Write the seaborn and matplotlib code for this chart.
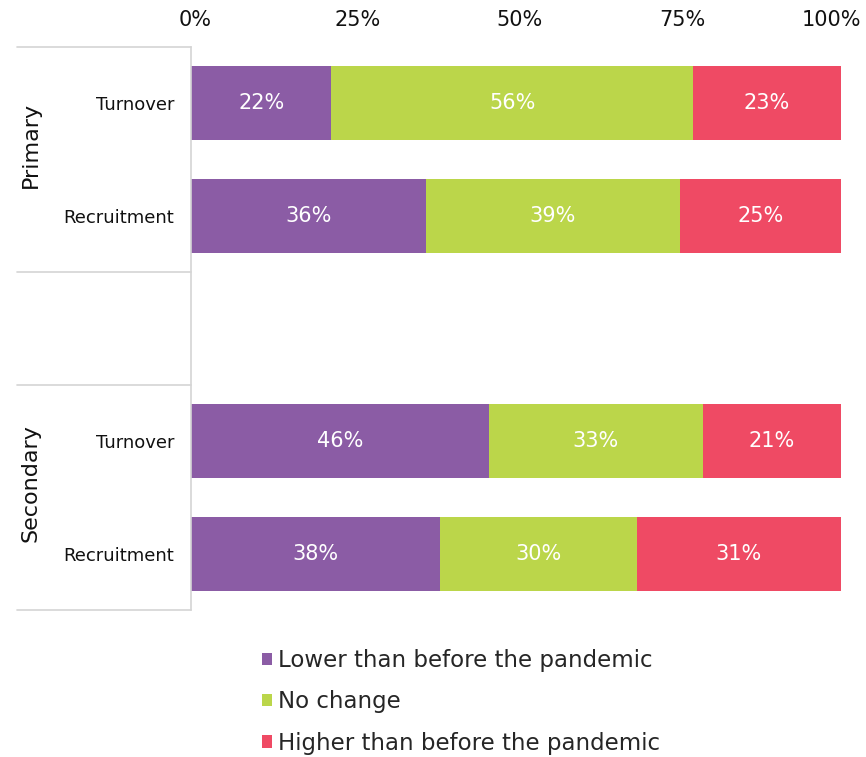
import pandas as pd
import seaborn as sns
import matplotlib.pyplot as plt
import matplotlib.transforms as mtransforms
from matplotlib.patches import Patch

# chart data
groups = ["Primary", "Secondary"]
measures = ["Turnover", "Recruitment", "Turnover", "Recruitment"]
positions = [0, 1, 3, 4]
lower = [21.6, 36.2, 45.8, 38.3]
no_change = [55.6, 39.0, 33.0, 30.3]
higher = [22.8, 24.8, 21.2, 31.4]
series_names = ["Lower than before the pandemic", "No change",
                "Higher than before the pandemic"]
ticks = [0, 25, 50, 75, 100]

colors = ["#8B5CA5", "#BBD64A", "#EF4A64"]

sns.set_theme(style="white")
plt.rcParams['font.family'] = ['DejaVu Sans']

df = pd.DataFrame({"pos": positions, "lower": lower,
                   "no_change": no_change, "higher": higher})
df["c1"] = df["lower"]
df["c2"] = df["c1"] + df["no_change"]
df["c3"] = df["c2"] + df["higher"]

fig = plt.figure(figsize=(8.66, 7.57), dpi=100)
ax = fig.add_axes([191 / 866, 1 - 610 / 757, 650 / 866, 563 / 757])

# stacked bars: draw the longest (cumulative) first
for col, color in [("c3", colors[2]), ("c2", colors[1]), ("c1", colors[0])]:
    sns.barplot(data=df, x=col, y="pos", orient="h", native_scale=True,
                color=color, width=0.655, linewidth=0, saturation=1, ax=ax)

# segment labels
for _, row in df.iterrows():
    starts = [0, row["c1"], row["c2"]]
    for s, v in zip(starts, [row["lower"], row["no_change"], row["higher"]]):
        ax.text(s + v / 2, row["pos"], f"{round(v)}%", ha="center",
                va="center", color="white", fontsize=15)

ax.set_xlim(0, 100)
ax.set_ylim(4.5, -0.5)
ax.xaxis.tick_top()
ax.set_xticks(ticks)
ax.set_xticklabels([f"{t}%" for t in ticks], fontsize=15, color="#111111")
ax.set_yticks(positions)
ax.set_yticklabels(measures, fontsize=13, color="#111111")
ax.tick_params(axis="x", length=0, pad=12)
ax.tick_params(axis="y", length=0, pad=12)
ax.set_xlabel("")
ax.set_ylabel("")
ax.grid(False)

# nudge tick labels a little, and pull "100%" inside the figure
xlabels = ax.get_xticklabels()
for i, lab in enumerate(xlabels):
    dx = -10 if i == len(xlabels) - 1 else 4
    lab.set_transform(lab.get_transform() +
                      mtransforms.ScaledTranslation(dx / 100, 0, fig.dpi_scale_trans))

for side in ["top", "right", "bottom"]:
    ax.spines[side].set_visible(False)
ax.spines["left"].set_color("#d4d4d4")
ax.spines["left"].set_linewidth(1.2)

# group separators and labels on the left
trans = mtransforms.blended_transform_factory(fig.transFigure, ax.transData)
for y in [-0.5, 1.5, 2.5, 4.5]:
    ax.plot([17 / 866, 191 / 866], [y, y], transform=trans, color="#d4d4d4",
            lw=1.2, clip_on=False)
for g, yc in zip(groups, [0.5, 3.5]):
    ax.text(31 / 866, yc - 0.13, g, transform=trans, rotation=90,
            ha="center", va="center", fontsize=16, color="#111111")

handles = [Patch(facecolor=c, edgecolor="none") for c in colors]
fig.legend(handles, series_names, loc="upper left",
           bbox_to_anchor=(262 / 866, 1 - 649 / 757), frameon=False,
           fontsize=16.5, handlelength=0.44, handleheight=0.44,
           handletextpad=0.28, labelspacing=0.8, borderaxespad=0,
           borderpad=0)

fig.savefig("out.png", dpi=100)
